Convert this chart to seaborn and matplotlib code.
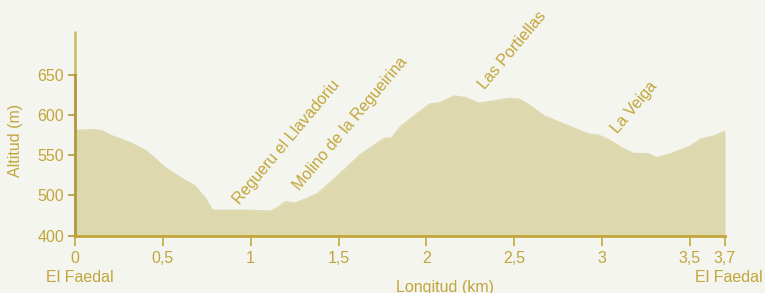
import numpy as np
import pandas as pd
import seaborn as sns
import matplotlib.pyplot as plt
import matplotlib.transforms as mtransforms

# perfil de la ruta: distancia (km) y altitud (m)
km = [0.0, 0.11, 0.16, 0.2, 0.31, 0.4, 0.45, 0.51, 0.6, 0.68, 0.74, 0.78, 0.8, 0.88,
      0.99, 1.11, 1.15, 1.2, 1.25, 1.31, 1.38, 1.48, 1.62, 1.76, 1.8, 1.85, 1.93,
      2.02, 2.07, 2.16, 2.22, 2.3, 2.36, 2.47, 2.53, 2.59, 2.67, 2.76, 2.87, 2.93,
      2.98, 3.04, 3.13, 3.18, 3.26, 3.31, 3.38, 3.5, 3.56, 3.64, 3.7]
altitud = [581, 582, 580, 575, 566, 556, 547, 535, 522, 512, 497, 482, 481, 481,
           481, 480, 484, 492, 490, 495, 502, 521, 550, 571, 571, 585, 599,
           614, 615, 624, 622, 615, 617, 621, 620, 612, 599, 591, 581, 576,
           575, 569, 557, 552, 552, 547, 551, 561, 570, 574, 580]

lugares = ['Regueru el Llavadoriu', 'Molino de la Regueirina', 'Las Portiellas', 'La Veiga']
lugares_km = [0.94, 1.28, 2.335, 3.09]
lugares_alt = [488, 505, 631, 577]

xticks = [0, 0.5, 1, 1.5, 2, 2.5, 3, 3.5, 3.7]
xticklabels = ['0', '0,5', '1', '1,5', '2', '2,5', '3', '3,5', '3,7']
yticks = [449, 500, 550, 600, 650]
yticklabels = ['400', '500', '550', '600', '650']

bg = '#f3f5ee'
relleno = '#ddd8ae'
oro = '#c2a63c'
eje = '#b09a38'

sns.set_theme(style='white')
plt.rcParams['font.family'] = ['Liberation Sans', 'DejaVu Sans']

df = pd.DataFrame({'km': km, 'altitud': altitud})

fig = plt.figure(figsize=(7.65, 2.93), dpi=100, facecolor=bg)
ax = fig.add_axes([75 / 765, 1 - 236 / 293, 650 / 765, 204 / 293])
ax.set_facecolor(bg)

ax.fill_between(df['km'], df['altitud'], 440, color=relleno, lw=0)
sns.lineplot(data=df, x='km', y='altitud', ax=ax, color=relleno, lw=1)

ax.set_xlim(0, 3.7)
ax.set_ylim(449, 704)

for s in ['top', 'right']:
    ax.spines[s].set_visible(False)
ax.spines['bottom'].set_color(oro)
ax.spines['bottom'].set_linewidth(2)
ax.spines['left'].set_color(eje)
ax.spines['left'].set_linewidth(2)
ax.spines['left'].set_bounds(449, 650)
ax.plot([0, 0], [650, 704], color='#cfbd6a', lw=2, clip_on=False,
        transform=mtransforms.blended_transform_factory(ax.transAxes, ax.transData))

ax.set_xticks(xticks)
ax.set_xticklabels(xticklabels)
ax.set_yticks(yticks)
ax.set_yticklabels(yticklabels)
ax.tick_params(axis='x', direction='out', length=7, width=1.2, color=oro,
               labelcolor=oro, labelsize=11.5, pad=4, bottom=True)
ax.tick_params(axis='y', direction='out', length=5, width=1.2, color=eje,
               labelcolor=oro, labelsize=11.5, pad=3, left=True)

ax.set_xlabel('Longitud (km)', color=oro, fontsize=11.5)
ax.xaxis.set_label_coords(0.57, -0.215)
ax.set_ylabel('Altitud (m)', color=oro, fontsize=11.5)
ax.yaxis.set_label_coords(-0.08, 0.47)

trans = mtransforms.blended_transform_factory(ax.transData, ax.transAxes)
for xk in [0.027, 3.723]:
    ax.text(xk, -0.165, 'El Faedal', transform=trans, ha='center', va='top',
            color=oro, fontsize=11.5, clip_on=False)

for nombre, xk, yk in zip(lugares, lugares_km, lugares_alt):
    ax.text(xk, yk, nombre, rotation=50, rotation_mode='anchor', ha='left',
            va='baseline', color=oro, fontsize=11.5, clip_on=False)

fig.savefig('out.png', dpi=100, facecolor=bg)
